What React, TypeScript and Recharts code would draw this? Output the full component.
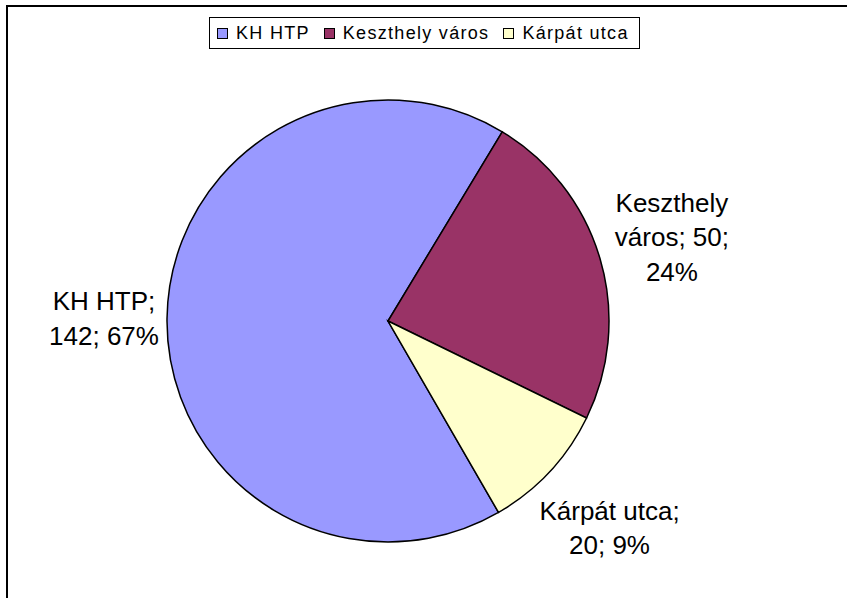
import React from 'react';
import { PieChart, Pie, Cell } from 'recharts';

const categories = ['KH HTP', 'Keszthely város', 'Kárpát utca'];
const values = [142, 50, 20];
const colors = ['#9999FF', '#993366', '#FFFFCC'];

const data = categories.map((name, i) => ({ name, value: values[i] }));

const FONT = "'Liberation Sans', Arial, sans-serif";
const LABEL_SIZE = 26;
const LINE_H = 34.5;
const WRAP_W = 150;
const GAP = 8;

let ctx: CanvasRenderingContext2D | null = null;
function measure(t: string): number {
  if (!ctx && typeof document !== 'undefined') {
    ctx = document.createElement('canvas').getContext('2d');
  }
  if (ctx) {
    ctx.font = `${LABEL_SIZE}px ${FONT}`;
    return ctx.measureText(t).width;
  }
  return t.length * LABEL_SIZE * 0.55;
}

function wrap(text: string): string[] {
  const words = text.split(' ');
  const lines: string[] = [];
  let cur = '';
  for (const w of words) {
    const cand = cur ? cur + ' ' + w : w;
    if (cur && measure(cand) > WRAP_W) {
      lines.push(cur);
      cur = w;
    } else {
      cur = cand;
    }
  }
  if (cur) lines.push(cur);
  return lines;
}

function renderLabel(props: any) {
  const { cx, cy, midAngle, outerRadius, name, value, percent, index } = props;
  const text = `${name}; ${value}; ${Math.round(percent * 100)}%`;
  const lines = wrap(text);
  const w = Math.max(...lines.map(measure));
  const h = lines.length * LINE_H;
  const rad = (midAngle * Math.PI) / 180;
  const dx = Math.cos(rad);
  const dy = -Math.sin(rad);
  const target = outerRadius + GAP;
  let t = 0;
  for (t = 0; t < 1000; t += 0.5) {
    const bx = t * dx;
    const by = t * dy;
    const px = Math.min(Math.max(0, bx - w / 2), bx + w / 2);
    const py = Math.min(Math.max(0, by - h / 2), by + h / 2);
    if (Math.hypot(px, py) >= target) break;
  }
  const x = cx + t * dx;
  const top = cy + t * dy - h / 2;
  return (
    <text key={`lbl-${index}`} x={x} y={top} textAnchor="middle" fontSize={LABEL_SIZE} fontFamily={FONT} fill="#000">
      {lines.map((l, i) => (
        <tspan key={i} x={x} y={top + LINE_H * (i + 0.5) + LABEL_SIZE * 0.35}>
          {l}
        </tspan>
      ))}
    </text>
  );
}

function LegendBox() {
  return (
    <div
      style={{
        position: 'absolute',
        left: 209,
        top: 17,
        height: 30,
        display: 'flex',
        alignItems: 'center',
        border: '1px solid #000',
        background: '#fff',
        padding: '0 10px 0 7px',
        fontFamily: FONT,
        fontSize: 18,
        letterSpacing: 1.3,
        whiteSpace: 'nowrap',
        boxSizing: 'content-box',
      }}
    >
      {categories.map((c, i) => (
        <span key={c} style={{ display: 'flex', alignItems: 'center', marginRight: i < categories.length - 1 ? 14 : 0 }}>
          <span
            style={{
              display: 'inline-block',
              width: 9,
              height: 9,
              border: '1px solid #000',
              background: colors[i],
              marginRight: 8,
            }}
          />
          {c}
        </span>
      ))}
    </div>
  );
}

export default function App() {
  return (
    <div style={{ position: 'absolute', left: 0, top: 0, width: 847, height: 598, overflow: 'hidden', background: '#fff' }}>
      <div
        style={{
          position: 'absolute',
          left: 6,
          top: 5,
          width: 1000,
          height: 1000,
          border: '2px solid #000',
        }}
      />
      <div style={{ position: 'absolute', left: 0, top: 0 }}>
        <PieChart width={847} height={598} margin={{ top: 0, right: 0, bottom: 0, left: 0 }}>
          <Pie
            data={data}
            dataKey="value"
            nameKey="name"
            cx={388}
            cy={321}
            outerRadius={221}
            startAngle={-60}
            endAngle={-420}
            stroke="#000"
            strokeWidth={1.5}
            label={renderLabel}
            labelLine={false}
            isAnimationActive={false}
          >
            {data.map((d, i) => (
              <Cell key={d.name} fill={colors[i]} />
            ))}
          </Pie>
        </PieChart>
      </div>
      <LegendBox />
    </div>
  );
}
